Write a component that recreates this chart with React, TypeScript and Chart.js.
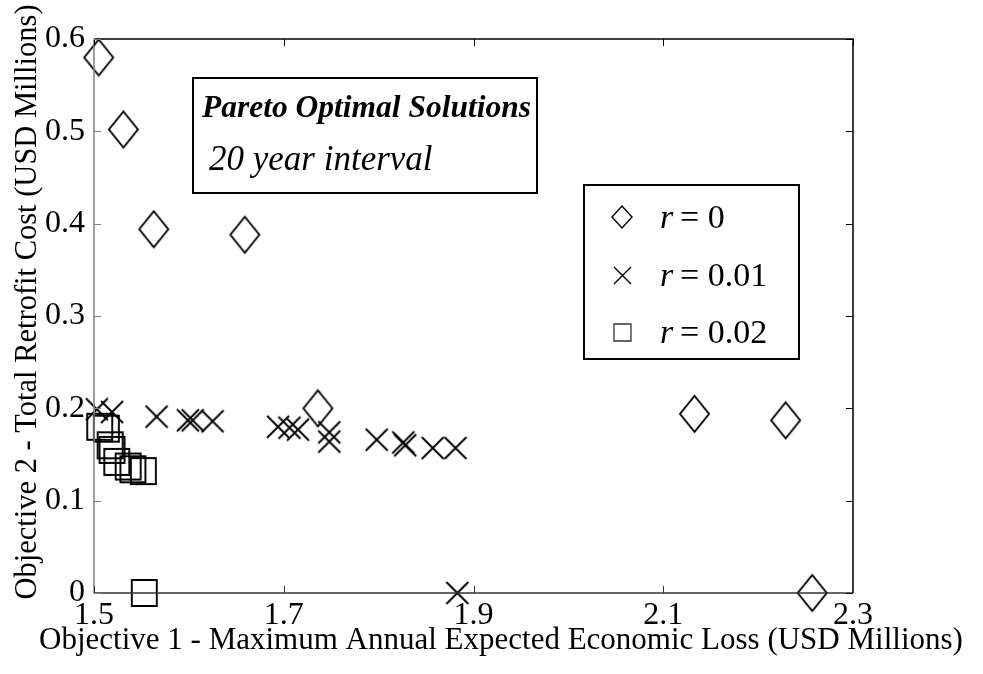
import React, { useEffect, useRef } from 'react';
import { Chart, registerables } from 'chart.js';

Chart.register(...registerables);

// ---- data ----
const seriesValues = ['0', '0.01', '0.02'];

const r0X = [1.505, 1.531, 1.563, 1.659, 1.736, 2.133, 2.229, 2.257];
const r0Y = [0.580, 0.502, 0.394, 0.388, 0.200, 0.194, 0.187, 0.0];

const r001X = [1.503, 1.519, 1.566, 1.599, 1.604, 1.625, 1.694, 1.706, 1.715, 1.748, 1.748, 1.798, 1.826, 1.828, 1.857, 1.881, 1.883];
const r001Y = [0.199, 0.196, 0.191, 0.187, 0.187, 0.186, 0.180, 0.179, 0.177, 0.174, 0.164, 0.166, 0.163, 0.160, 0.157, 0.157, 0.0];

const r002X = [1.506, 1.513, 1.517, 1.519, 1.524, 1.536, 1.541, 1.552, 1.553];
const r002Y = [0.180, 0.178, 0.160, 0.155, 0.142, 0.137, 0.134, 0.132, 0.0];

const xTicks = [1.5, 1.7, 1.9, 2.1, 2.3];
const xTickLabels = ['1.5', '1.7', '1.9', '2.1', '2.3'];
const yTicks = [0, 0.1, 0.2, 0.3, 0.4, 0.5, 0.6];
const yTickLabels = ['0', '0.1', '0.2', '0.3', '0.4', '0.5', '0.6'];

const xTitle = 'Objective 1 - Maximum Annual Expected Economic Loss (USD Millions)';
const yTitle = 'Objective 2 - Total Retrofit Cost (USD Millions)';
const boxTitle = 'Pareto Optimal Solutions';
const boxSubtitle = '20 year interval';

const SERIF = '"Liberation Serif", "Times New Roman", serif';

type Kind = 'diamond' | 'cross' | 'square';

function makeMarker(kind: Kind, w: number, h: number, lw: number, color = '#000') {
  const c = document.createElement('canvas');
  const pad = Math.ceil(lw) + 1;
  c.width = Math.round(w + 2 * pad);
  c.height = Math.round(h + 2 * pad);
  const g = c.getContext('2d')!;
  g.strokeStyle = color;
  g.lineWidth = lw;
  g.lineJoin = 'miter';
  const cx = c.width / 2;
  const cy = c.height / 2;
  g.beginPath();
  if (kind === 'diamond') {
    g.moveTo(cx, cy - h / 2);
    g.lineTo(cx + w / 2, cy);
    g.lineTo(cx, cy + h / 2);
    g.lineTo(cx - w / 2, cy);
    g.closePath();
  } else if (kind === 'cross') {
    g.moveTo(cx - w / 2, cy - h / 2);
    g.lineTo(cx + w / 2, cy + h / 2);
    g.moveTo(cx + w / 2, cy - h / 2);
    g.lineTo(cx - w / 2, cy + h / 2);
  } else {
    g.rect(cx - w / 2, cy - h / 2, w, h);
  }
  g.stroke();
  return c;
}

export default function App() {
  const ref = useRef<HTMLCanvasElement | null>(null);

  useEffect(() => {
    const canvas = ref.current;
    if (!canvas) return;

    const mDiamond = makeMarker('diamond', 29, 36, 1.9);
    const mCross = makeMarker('cross', 22, 22, 1.9);
    const mSquare = makeMarker('square', 25, 26, 1.9);
    const lDiamond = makeMarker('diamond', 20, 22, 1.4);
    const lCross = makeMarker('cross', 17, 17, 1.4);
    const lSquare = makeMarker('square', 17, 17, 1.3, '#333');
    const legendMarkers = [lDiamond, lCross, lSquare];

    const toPts = (xs: number[], ys: number[]) => xs.map((x, i) => ({ x, y: ys[i] }));

    const framePlugin = {
      id: 'frame',
      afterDatasetsDraw(chart: any) {
        const { ctx, chartArea: a, scales } = chart;
        const xs = scales.x;
        const ys = scales.y;
        ctx.save();
        ctx.lineWidth = 1.5;
        ctx.strokeStyle = '#000';
        ctx.beginPath();
        ctx.moveTo(a.left, a.top);
        ctx.lineTo(a.right, a.top);
        ctx.lineTo(a.right, a.bottom);
        ctx.stroke();
        ctx.strokeStyle = '#333';
        ctx.beginPath();
        ctx.moveTo(a.left, a.bottom);
        ctx.lineTo(a.right, a.bottom);
        ctx.stroke();
        ctx.strokeStyle = '#808080';
        ctx.beginPath();
        ctx.moveTo(a.left, a.top);
        ctx.lineTo(a.left, a.bottom);
        ctx.stroke();
        const tl = 7;
        ctx.lineWidth = 1;
        xTicks.forEach((v) => {
          const px = Math.round(xs.getPixelForValue(v)) + 0.5;
          ctx.strokeStyle = '#333';
          ctx.beginPath();
          ctx.moveTo(px, a.bottom);
          ctx.lineTo(px, a.bottom - tl);
          ctx.stroke();
          ctx.strokeStyle = '#000';
          ctx.beginPath();
          ctx.moveTo(px, a.top);
          ctx.lineTo(px, a.top + tl);
          ctx.stroke();
        });
        yTicks.forEach((v) => {
          const py = Math.round(ys.getPixelForValue(v)) + 0.5;
          ctx.strokeStyle = '#808080';
          ctx.beginPath();
          ctx.moveTo(a.left, py);
          ctx.lineTo(a.left + tl, py);
          ctx.stroke();
          ctx.strokeStyle = '#000';
          ctx.beginPath();
          ctx.moveTo(a.right, py);
          ctx.lineTo(a.right - tl, py);
          ctx.stroke();
        });
        ctx.restore();
      },
      afterDraw(chart: any) {
        const { ctx } = chart;
        ctx.save();
        ctx.fillStyle = '#000';
        ctx.strokeStyle = '#000';
        // axis titles
        ctx.font = `31px ${SERIF}`;
        ctx.textAlign = 'center';
        ctx.textBaseline = 'alphabetic';
        ctx.fillText(xTitle, 501, 649);
        ctx.save();
        ctx.font = `30.5px ${SERIF}`;
        ctx.translate(36, 302);
        ctx.rotate(-Math.PI / 2);
        ctx.fillText(yTitle, 0, 0);
        ctx.restore();

        // title box
        ctx.lineWidth = 2;
        ctx.strokeRect(193, 78, 344, 115);
        ctx.textAlign = 'left';
        ctx.font = `italic bold 31.5px ${SERIF}`;
        ctx.fillText(boxTitle, 202, 117);
        ctx.font = `italic 35px ${SERIF}`;
        ctx.fillText(boxSubtitle, 209, 170);

        // legend box
        ctx.lineWidth = 2;
        ctx.strokeRect(584, 185, 215, 174);
        const rowsY = [217, 275, 332];
        chart.data.datasets.forEach((ds: any, i: number) => {
          const m = legendMarkers[i];
          const cy = rowsY[i];
          ctx.drawImage(m, Math.round(622 - m.width / 2), Math.round(cy - m.height / 2));
          ctx.font = `italic 34px ${SERIF}`;
          ctx.fillText('r', 660, cy + 11);
          ctx.font = `34px ${SERIF}`;
          ctx.fillText('= ' + seriesValues[i], 680, cy + 11);
        });
        ctx.restore();
      },
    };

    const chart = new Chart(canvas, {
      type: 'scatter',
      data: {
        datasets: [
          {
            label: 'r = ' + seriesValues[0],
            data: toPts(r0X, r0Y),
            pointStyle: mDiamond as any,
            pointRadius: 14,
            clip: false as any,
          },
          {
            label: 'r = ' + seriesValues[1],
            data: toPts(r001X, r001Y),
            pointStyle: mCross as any,
            pointRadius: 11,
            clip: false as any,
          },
          {
            label: 'r = ' + seriesValues[2],
            data: toPts(r002X, r002Y),
            pointStyle: mSquare as any,
            pointRadius: 13,
            clip: false as any,
          },
        ],
      },
      options: {
        responsive: false,
        animation: false,
        devicePixelRatio: 1,
        layout: { padding: { left: 0, top: 39, right: 130, bottom: 0 } },
        plugins: {
          legend: { display: false },
          tooltip: { enabled: false },
        },
        scales: {
          x: {
            type: 'linear',
            min: 1.5,
            max: 2.3,
            grid: { display: false },
            border: { display: false },
            afterBuildTicks: (s: any) => {
              s.ticks = xTicks.map((v) => ({ value: v }));
            },
            afterFit: (s: any) => {
              s.height = 81;
            },
            ticks: {
              color: '#000',
              padding: -5,
              maxRotation: 0,
              font: { family: SERIF, size: 32 },
              callback: (v: any) => xTickLabels[xTicks.indexOf(Number(v))] ?? '',
            },
          },
          y: {
            type: 'linear',
            min: 0,
            max: 0.6,
            grid: { display: false },
            border: { display: false },
            afterBuildTicks: (s: any) => {
              s.ticks = yTicks.map((v) => ({ value: v }));
            },
            afterFit: (s: any) => {
              s.width = 94;
            },
            ticks: {
              color: '#000',
              padding: 1,
              font: { family: SERIF, size: 32 },
              callback: (v: any) => yTickLabels[yTicks.indexOf(Number(v))] ?? '',
            },
          },
        },
      },
      plugins: [framePlugin],
    });

    return () => chart.destroy();
  }, []);

  return (
    <div style={{ position: 'fixed', left: 0, top: 0, width: 983, height: 674, background: '#fff' }}>
      <canvas ref={ref} width={983} height={674} style={{ display: 'block' }} />
    </div>
  );
}
